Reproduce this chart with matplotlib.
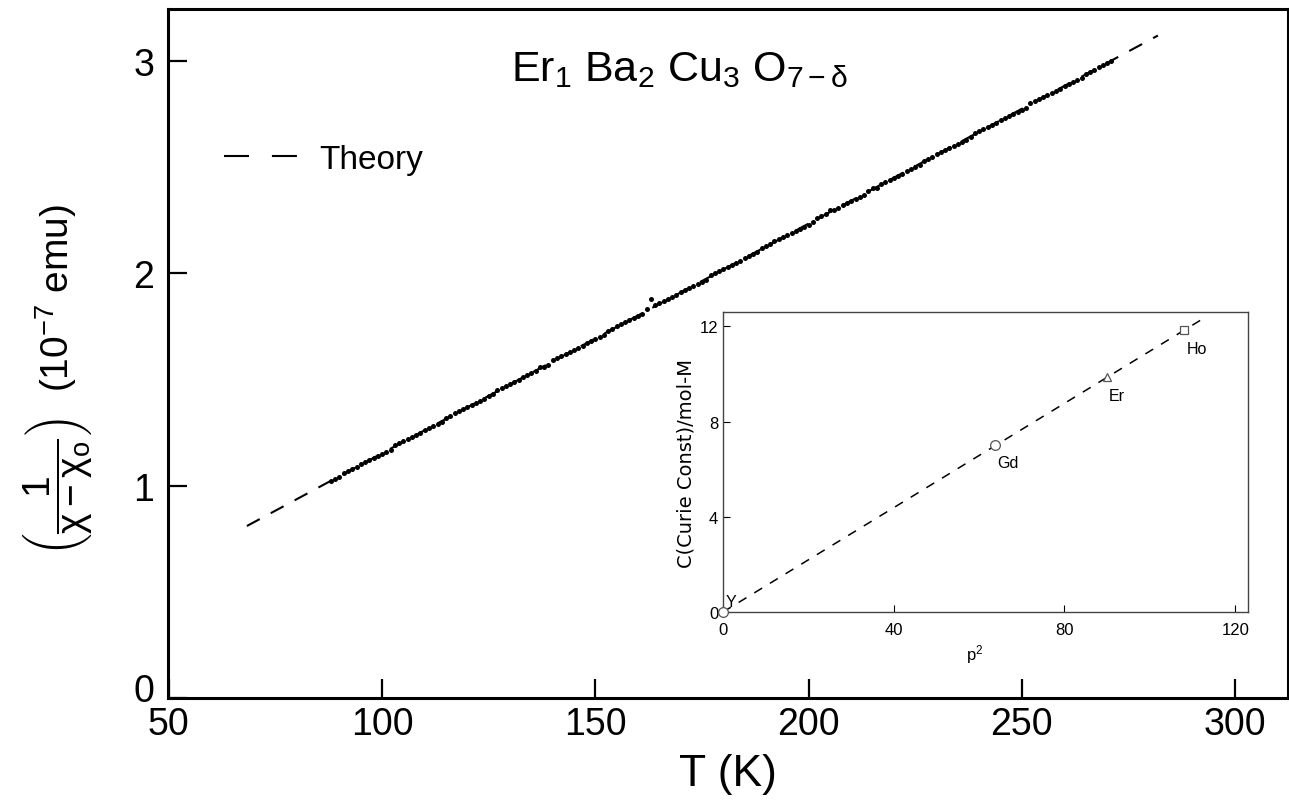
import matplotlib
matplotlib.use("Agg")
import matplotlib.pyplot as plt
from matplotlib.lines import Line2D
from matplotlib.transforms import ScaledTranslation

plt.rcParams['font.family'] = ['Liberation Sans', 'DejaVu Sans']
plt.rcParams['mathtext.fontset'] = 'custom'
plt.rcParams['mathtext.rm'] = 'Liberation Sans'
plt.rcParams['mathtext.it'] = 'Liberation Sans'
plt.rcParams['mathtext.bf'] = 'Liberation Sans:bold'

# ---------------- Data ---------------- #
# measured 1/(chi - chi0) vs temperature, read off the figure
temp_K = list(range(88, 272))
inv_chi = [
    1.02, 1.03,
    1.04, 1.06, 1.07, 1.08, 1.09, 1.10, 1.11, 1.12, 1.13, 1.14,
    1.15, 1.16, 1.17, 1.19, 1.20, 1.21, 1.22, 1.23, 1.24, 1.25,
    1.26, 1.27, 1.28, 1.29, 1.30, 1.32, 1.33, 1.34, 1.35, 1.36,
    1.37, 1.38, 1.39, 1.40, 1.41, 1.42, 1.43, 1.45, 1.46, 1.47,
    1.48, 1.49, 1.50, 1.51, 1.52, 1.53, 1.54, 1.56, 1.56, 1.57,
    1.59, 1.60, 1.61, 1.62, 1.63, 1.64, 1.65, 1.66, 1.67, 1.68,
    1.69, 1.70, 1.71, 1.73, 1.74, 1.75, 1.76, 1.77, 1.78, 1.79,
    1.80, 1.81, 1.83, 1.88, 1.85, 1.86, 1.87, 1.88, 1.89, 1.90,
    1.91, 1.92, 1.93, 1.94, 1.95, 1.96, 1.97, 1.99, 2.00, 2.01,
    2.02, 2.03, 2.04, 2.05, 2.06, 2.07, 2.08, 2.09, 2.10, 2.12,
    2.13, 2.14, 2.15, 2.16, 2.17, 2.18, 2.19, 2.20, 2.21, 2.22,
    2.23, 2.24, 2.26, 2.27, 2.28, 2.30, 2.30, 2.31, 2.32, 2.33,
    2.34, 2.35, 2.36, 2.37, 2.39, 2.40, 2.40, 2.42, 2.43, 2.44,
    2.45, 2.46, 2.47, 2.48, 2.49, 2.50, 2.51, 2.53, 2.54, 2.55,
    2.56, 2.57, 2.58, 2.59, 2.60, 2.61, 2.62, 2.63, 2.64, 2.66,
    2.67, 2.68, 2.69, 2.70, 2.71, 2.72, 2.73, 2.74, 2.75, 2.76,
    2.77, 2.78, 2.80, 2.81, 2.82, 2.83, 2.84, 2.85, 2.86, 2.87,
    2.88, 2.89, 2.90, 2.91, 2.92, 2.94, 2.95, 2.96, 2.97, 2.98,
    2.99, 3.00,
]

# theory line end points
theory_T = [68.3, 281.9]
theory_y = [0.81, 3.12]

# inset: Curie constant vs p^2
ions = ["Y", "Gd", "Er", "Ho"]
p_sq = [0.0, 63.8, 89.9, 107.9]
curie_C = [0.0, 7.02, 9.85, 11.86]
ion_markers = ["o", "o", "^", "s"]
fit_p2 = [0.0, 112.1]
fit_C = [0.0, 12.28]

x_ticks = [50, 100, 150, 200, 250, 300]
y_ticks = [0, 1, 2, 3]
inset_x_ticks = [0, 40, 80, 120]
inset_y_ticks = [0, 4, 8, 12]


def main():
    W, H = 1289, 803
    fig = plt.figure(figsize=(W / 100, H / 100), dpi=100)

    # ---------------- Main axes ---------------- #
    ax = fig.add_axes([168 / W, 1 - 699 / H, 1120 / W, 689 / H])
    ax.plot(theory_T, theory_y, color="black", lw=1.5, dashes=(7, 6))
    ax.plot(temp_K, inv_chi, "o", color="black", ms=3.6, mec="none")

    ax.set_xlim(49.8, 312.4)
    ax.set_ylim(0, 3.245)
    ax.set_xticks(x_ticks)
    ax.set_yticks(y_ticks)
    ax.tick_params(direction="in", length=14, width=1.6, labelsize=27)
    ax.tick_params(axis="x", pad=6)
    ax.tick_params(axis="y", pad=10)
    for s in ax.spines.values():
        s.set_linewidth(2.2)

    # lift the "0" y label a bit so it clears the "50"
    lab0 = ax.get_yticklabels()[0]
    lab0.set_transform(lab0.get_transform() + ScaledTranslation(0, 8 / 72, fig.dpi_scale_trans))

    ax.set_xlabel("T (K)", fontsize=32, labelpad=8)
    ax.set_ylabel(r"$\left(\dfrac{1}{\chi-\chi_o}\right)$  (10$^{-7}$ emu)", fontsize=28)
    ax.yaxis.set_label_coords(-0.066, 0.462)

    ax.text(0.457, 0.913, r"Er$_1$ Ba$_2$ Cu$_3$ O$_{7-\delta}$",
            transform=ax.transAxes, fontsize=31, ha="center", va="center")

    handle = Line2D([], [], color="black", lw=1.5, dashes=(12, 11))
    ax.legend([handle], ["Theory"], loc="center left", bbox_to_anchor=(0.05, 0.782),
              frameon=False, fontsize=24, handlelength=2.5,
              handletextpad=0.35, borderaxespad=0, borderpad=0)

    # ---------------- Inset ---------------- #
    ins = fig.add_axes([723 / W, 1 - 613 / H, 525 / W, 300 / H])
    ins.plot(fit_p2, fit_C, color="black", lw=1.1, dashes=(6, 6))
    for x, y, m in zip(p_sq, curie_C, ion_markers):
        ins.plot(x, y, m, mfc="white", mec="#555555", ms=7 if m == "o" else 6,
                 mew=0.9, clip_on=False, zorder=3)
    offsets = {"Y": (0.6, 0.45), "Gd": (0.4, -0.75), "Er": (0.5, -0.75), "Ho": (0.7, -0.8)}
    for name, x, y in zip(ions, p_sq, curie_C):
        dx, dy = offsets[name]
        ins.text(x + dx, y + dy, name, fontsize=11.5, ha="left", va="center")

    ins.set_xlim(0, 123)
    ins.set_ylim(0, 12.6)
    ins.set_xticks(inset_x_ticks)
    ins.set_yticks(inset_y_ticks)
    ins.tick_params(direction="in", length=5, width=0.8, labelsize=12)
    ins.tick_params(axis="x", pad=7)
    for s in ins.spines.values():
        s.set_linewidth(1.0)
        s.set_color("#444444")
    ins.set_xlabel(r"p$^2$", fontsize=12)
    ins.xaxis.set_label_coords(0.48, -0.1)
    ins.set_ylabel("C(Curie Const)/mol-M", fontsize=14, labelpad=3,
                   family="DejaVu Sans")

    fig.savefig("out.png", dpi=100)


if __name__ == "__main__":
    main()
